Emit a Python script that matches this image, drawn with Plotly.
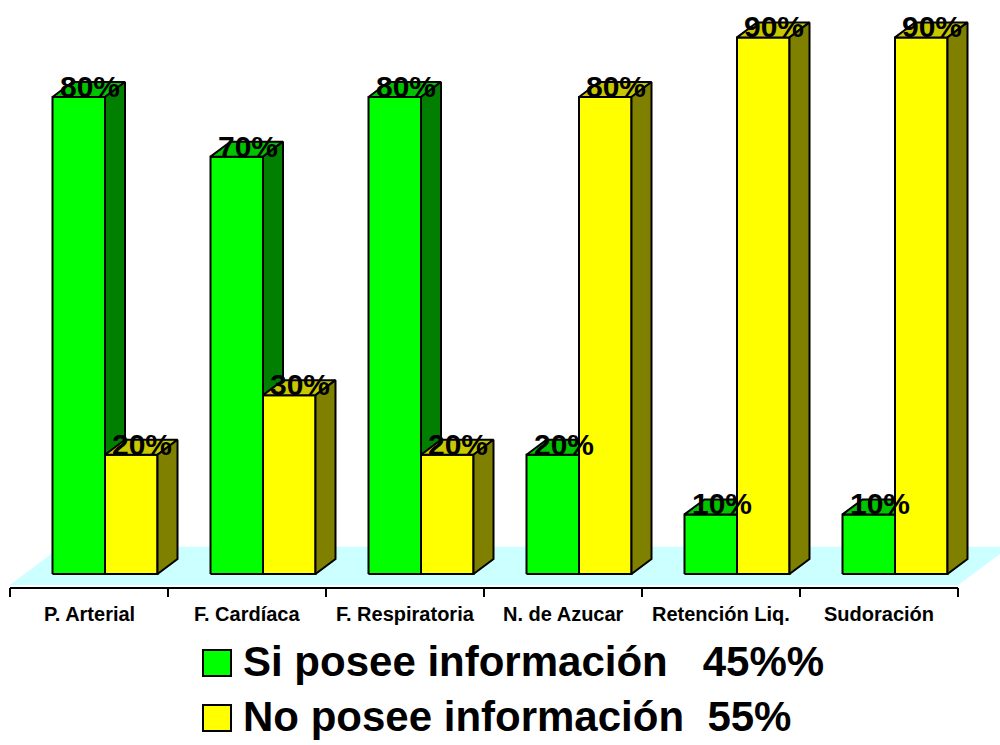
import plotly.graph_objects as go

# ---- data -------------------------------------------------------------
categories = ["P. Arterial", "F. Cardíaca", "F. Respiratoria",
              "N. de Azucar", "Retención Liq.", "Sudoración"]
si_posee = [80, 70, 80, 20, 10, 10]
no_posee = [20, 30, 20, 80, 90, 90]
legend_labels = ["Si posee información\u00a0\u00a0\u00a045%%",
                 "No posee información\u00a0\u00a055%"]

# ---- geometry (pixels) ------------------------------------------------
W, H = 1000, 745
PX_X = 158.0          # pixels per category
PX_Y = 5.9625         # pixels per percentage point
LEFT_PX = 10          # pixel of the first category boundary
BASE_PX = 574         # pixel row of the bar bases

BAR_W = 52.5          # width of each bar front, px
BAR_SHIFT = 16        # bars sit this far right of the floor front edge, px
BAR_DX, BAR_DY = 20, 15        # depth of each column, px
FLOOR_DROP = 11                # floor front edge below bar bases, px
FLOOR_DX, FLOOR_DY = 51, 38    # depth of the floor, px
AXIS_DROP, TICK_DROP = 14, 23  # axis line and tick ends below bar bases, px


def ux(px):
    return px / PX_X


def uy(px):
    return px / PX_Y


FONT = "Liberation Sans, Arial, Helvetica, sans-serif"

COLORS = {
    "si": dict(front="#00FF00", top="#00C400", side="#007F00"),
    "no": dict(front="#FFFF00", top="#C8C800", side="#808000"),
}

fig = go.Figure()


def poly(xs, ys, fill, line_w=2.0):
    fig.add_trace(go.Scatter(
        x=list(xs) + [xs[0]], y=list(ys) + [ys[0]],
        mode="lines", fill="toself", fillcolor=fill,
        line=dict(color="black" if line_w else fill, width=line_w or 0.5),
        hoverinfo="skip", showlegend=False,
    ))


# floor
fy0 = -uy(FLOOR_DROP)
poly([0, len(categories), len(categories) + ux(FLOOR_DX), ux(FLOOR_DX)],
     [fy0, fy0, fy0 + uy(FLOOR_DY), fy0 + uy(FLOOR_DY)],
     "#CCFFFF", line_w=0)

bw, ddx, ddy = ux(BAR_W), ux(BAR_DX), uy(BAR_DY)


def column(x0, h, c):
    x1 = x0 + bw
    # front face
    poly([x0, x1, x1, x0], [0, 0, h, h], c["front"])
    # top face
    poly([x0, x1, x1 + ddx, x0 + ddx], [h, h, h + ddy, h + ddy], c["top"])
    # side face
    poly([x1, x1 + ddx, x1 + ddx, x1], [0, ddy, h + ddy, h], c["side"])


centers = [i + 0.5 + ux(BAR_SHIFT) for i in range(len(categories))]

annotations = []
for series, vals, offset in (("si", si_posee, -bw), ("no", no_posee, 0.0)):
    for c, v in zip(centers, vals):
        x0 = c + offset
        column(x0, v, COLORS[series])
        annotations.append(dict(
            x=x0 + bw / 2 + ux(11), y=v, xref="x", yref="y",
            text=f"{v}%", showarrow=False,
            xanchor="center", yanchor="bottom", yshift=-8,
            font=dict(family=FONT, size=30, color="black", weight="bold"),
        ))

# category labels under the axis
for i, name in enumerate(categories):
    annotations.append(dict(
        x=i + 0.5, y=-uy(40), xref="x", yref="y",
        text=name, showarrow=False,
        xanchor="center", yanchor="middle",
        font=dict(family=FONT, size=20, color="black", weight="bold"),
    ))

# axis line with boundary ticks
shapes = [dict(type="line", xref="x", yref="y",
               x0=0, x1=len(categories), y0=-uy(AXIS_DROP), y1=-uy(AXIS_DROP),
               line=dict(color="black", width=2))]
for i in range(len(categories) + 1):
    shapes.append(dict(type="line", xref="x", yref="y",
                       x0=i, x1=i, y0=-uy(AXIS_DROP), y1=-uy(TICK_DROP),
                       line=dict(color="black", width=2)))

# legend (boxes + labels)
legend_rows = [(650, 676), (705, 731)]
for (top, bottom), label, key in zip(legend_rows, legend_labels, ("si", "no")):
    shapes.append(dict(type="rect", xref="paper", yref="paper",
                       x0=203 / W, x1=231 / W,
                       y0=1 - bottom / H, y1=1 - top / H,
                       fillcolor=COLORS[key]["front"],
                       line=dict(color="black", width=2)))
    annotations.append(dict(
        x=241 / W, y=1 - (bottom - 15) / H, xref="paper", yref="paper",
        text=label, showarrow=False,
        xanchor="left", yanchor="middle",
        font=dict(family=FONT, size=42, color="black", weight="bold"),
    ))

fig.update_layout(
    width=W, height=H,
    margin=dict(l=0, r=0, t=0, b=0),
    paper_bgcolor="white", plot_bgcolor="white",
    showlegend=False,
    xaxis=dict(range=[-ux(LEFT_PX), ux(W - LEFT_PX)], visible=False,
               fixedrange=True),
    yaxis=dict(range=[-uy(H - BASE_PX), uy(BASE_PX)], visible=False,
               fixedrange=True),
    shapes=shapes,
    annotations=annotations,
)

fig.write_html("out.html")
